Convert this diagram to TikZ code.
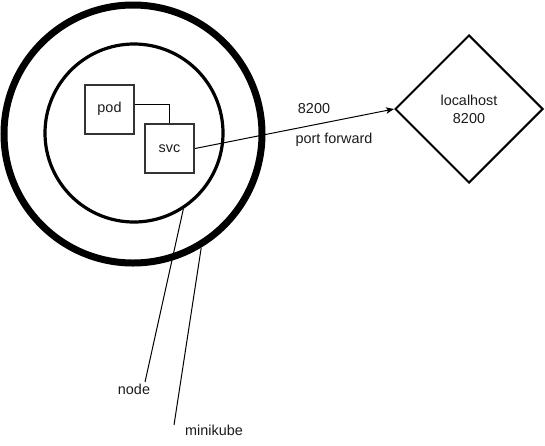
\documentclass[tikz,border=0pt]{standalone}
\usepackage{fontspec}
\setmainfont{Liberation Sans}
\usetikzlibrary{shapes.geometric,arrows.meta}
\definecolor{boxline}{HTML}{333333}
\definecolor{txt}{HTML}{1A1A1A}
\tikzset{
  lbl/.style={font=\fontsize{14.4}{18}\selectfont, text=txt, inner sep=0pt},
  ring/.style={draw=black, circle, inner sep=0pt, fill=none},
  sq/.style={draw=boxline, line width=2pt, minimum width=49pt, minimum height=49pt, inner sep=0pt, lbl},
  thin/.style={draw=black, line width=1pt},
}
\begin{document}
\begin{tikzpicture}[x=1pt,y=-1pt]
\useasboundingbox (0,0) rectangle (545,445);
\node[ring, line width=7pt, minimum size=258pt] (outer) at (133,134) {};
\node[ring, line width=3.2pt, minimum size=178pt] (inner) at (134,133) {};
\node[sq] (pod) at (109.5,109) {pod};
\node[sq] (svc) at (169.5,148.5) {svc};
\node[draw=black, line width=2pt, diamond, aspect=1, minimum width=148pt, minimum height=148pt, inner sep=0pt, lbl, align=center] (lh) at (469,109) {localhost\\8200};
\node[lbl] (l8200) at (314,109) {8200};
\node[lbl] (lpf) at (334,140) {port forward};
\node[lbl] (lnode) at (134,389) {node};
\node[lbl] (lmk) at (214,430) {minikube};
\coordinate (nodeend) at (145,382);
\coordinate (mkend) at (174,425);
\draw[thin] ([yshift=5pt]pod.east) -| (svc.north);
\draw[thin, -{Stealth[length=8pt,width=6.5pt,inset=2pt]}] (svc.east) -- (lh.west);
\draw[thin] (nodeend) -- (inner.-57);
\draw[thin] (mkend) -- (outer.-59);
\end{tikzpicture}
\end{document}
